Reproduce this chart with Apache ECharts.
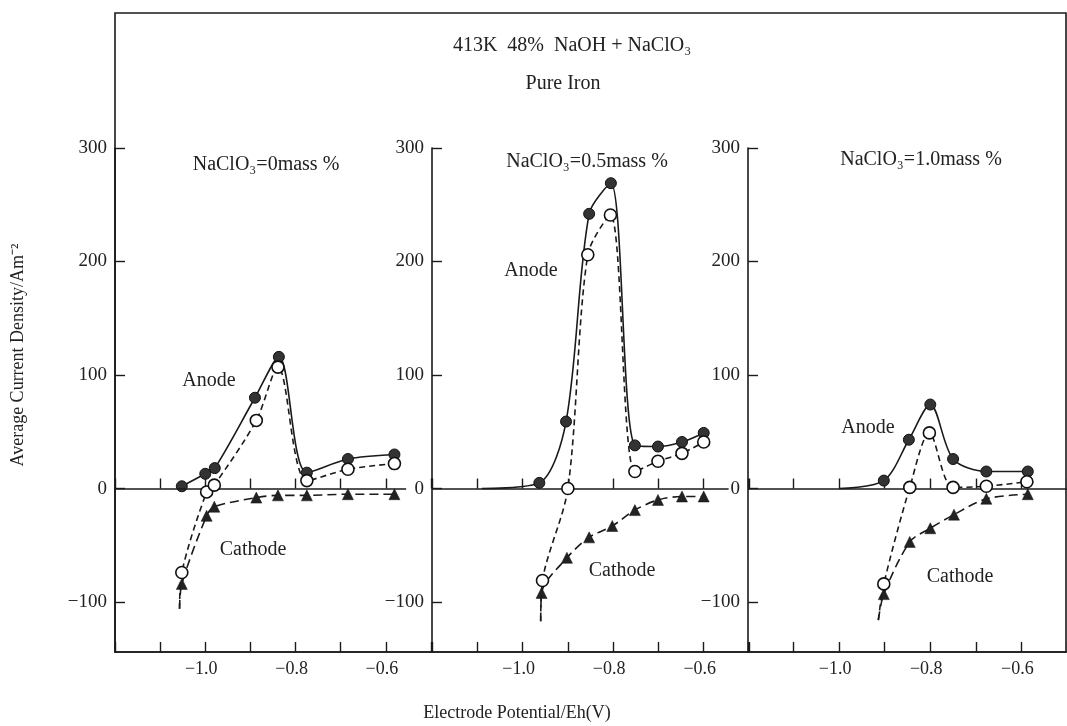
<!DOCTYPE html>
<html><head><meta charset="utf-8">
<script src="https://cdn.jsdelivr.net/npm/echarts@6/dist/echarts.min.js"></script>
<style>html,body{margin:0;padding:0;background:#fff}#c{width:1067px;height:726px}</style>
</head><body><div id="c"></div>
<script>
// ---- data ----
const panelTitles = ['NaClO₃=0mass %', 'NaClO₃=0.5mass %', 'NaClO₃=1.0mass %'];
const xLabelValues = [-1.0, -0.8, -0.6];
const xTickLabels = ['−1.0', '−0.8', '−0.6'];
const yTickValues = [-100, 0, 100, 200, 300];
const yTickLabels = ['−100', '0', '100', '200', '300'];

// Panel 1: NaClO3 = 0 mass%
const p1AnodeFilled = [[-1.052, 2], [-1.0, 13], [-0.979, 18], [-0.890, 80], [-0.837, 116], [-0.775, 14], [-0.684, 26], [-0.581, 30]];
const p1AnodeOpen = [[-1.052, -74], [-0.997, -3], [-0.980, 3], [-0.887, 60], [-0.839, 107], [-0.775, 7], [-0.684, 17], [-0.581, 22]];
const p1Cathode = [[-1.052, -84], [-0.997, -24], [-0.980, -16], [-0.887, -8], [-0.839, -6], [-0.775, -6], [-0.684, -5], [-0.581, -5]];
const p1FilledTail = [];
const p1OpenTail = [[-1.057, -106]];
const p1CathodeTail = [[-1.057, -106]];

// Panel 2: NaClO3 = 0.5 mass%
const p2AnodeFilled = [[-0.963, 5], [-0.904, 59], [-0.853, 242], [-0.805, 269], [-0.752, 38], [-0.701, 37], [-0.648, 41], [-0.600, 49]];
const p2AnodeOpen = [[-0.956, -81], [-0.900, 0], [-0.856, 206], [-0.806, 241], [-0.752, 15], [-0.701, 24], [-0.648, 31], [-0.600, 41]];
const p2Cathode = [[-0.958, -92], [-0.902, -61], [-0.853, -43], [-0.802, -33], [-0.752, -19], [-0.701, -10], [-0.648, -7], [-0.600, -7]];
const p2FilledTail = [[-1.09, 0]];
const p2OpenTail = [[-0.960, -117]];
const p2CathodeTail = [[-0.960, -117]];

// Panel 3: NaClO3 = 1.0 mass%
const p3AnodeFilled = [[-0.902, 7], [-0.847, 43], [-0.800, 74], [-0.750, 26], [-0.677, 15], [-0.586, 15]];
const p3AnodeOpen = [[-0.902, -84], [-0.845, 1], [-0.802, 49], [-0.750, 1], [-0.677, 2], [-0.588, 6]];
const p3Cathode = [[-0.902, -93], [-0.845, -47], [-0.800, -35], [-0.748, -23], [-0.677, -9], [-0.586, -5]];
const p3FilledTail = [[-1.0, 0]];
const p3OpenTail = [[-0.914, -116]];
const p3CathodeTail = [[-0.914, -116]];

const zeroLineEnd = [-0.555, -0.545, -0.5];
const xMin = -1.2, xMax = -0.5, yMin = -144, yMax = 300;

// ---- chart ----
const FONT = "'Liberation Serif','Times New Roman',serif";
const INK = '#1a1a1a';
const panels = [
  {filled: p1AnodeFilled, open: p1AnodeOpen, cath: p1Cathode, ft: p1FilledTail, ot: p1OpenTail, ct: p1CathodeTail},
  {filled: p2AnodeFilled, open: p2AnodeOpen, cath: p2Cathode, ft: p2FilledTail, ot: p2OpenTail, ct: p2CathodeTail},
  {filled: p3AnodeFilled, open: p3AnodeOpen, cath: p3Cathode, ft: p3FilledTail, ot: p3OpenTail, ct: p3CathodeTail}
];
const gridPos = [{left: 115, width: 316}, {left: 432, width: 317}, {left: 748, width: 322}];

function withTail(tail, pts) {
  return tail.map(p => ({value: p, symbol: 'none'})).concat(pts);
}

const grid = [], xAxis = [], yAxis = [], series = [];
gridPos.forEach((g, i) => {
  grid.push({left: g.left, width: g.width, top: 148, height: 504, containLabel: false});
  xAxis.push({
    type: 'value', gridIndex: i, position: 'bottom', min: xMin, max: xMax, interval: 0.1,
    axisLine: {onZero: false, lineStyle: {color: INK, width: 1.6}},
    axisTick: {show: true, inside: true, length: 10, lineStyle: {color: INK, width: 1.4}},
    axisLabel: {show: true, customValues: xLabelValues, margin: 8, color: '#222', fontFamily: FONT, fontSize: 18,
      padding: [0, 8, 0, 0],
      formatter: v => { const k = xLabelValues.findIndex(t => Math.abs(t - v) < 1e-6); return k >= 0 ? xTickLabels[k] : ''; }},
    splitLine: {show: false}
  });
  xAxis.push({
    type: 'value', gridIndex: i, position: 'top', min: xMin, max: xMax, interval: 0.1,
    axisLine: {show: true, onZero: true, lineStyle: {color: INK, width: 1.5, opacity: 0}},
    axisTick: {show: true, inside: false, length: 10, lineStyle: {color: INK, width: 1.4}},
    axisLabel: {show: false}, splitLine: {show: false}
  });
  yAxis.push({
    type: 'value', gridIndex: i, min: yMin, max: yMax,
    axisLine: {show: true, onZero: false, lineStyle: {color: INK, width: 1.6}},
    axisTick: {show: true, inside: true, length: 10, customValues: yTickValues, lineStyle: {color: INK, width: 1.4}},
    axisLabel: {show: true, customValues: yTickValues, margin: 8, color: '#222', fontFamily: FONT, fontSize: 19,
      formatter: v => { const k = yTickValues.indexOf(Math.round(v)); return k >= 0 ? yTickLabels[k] : ''; }},
    splitLine: {show: false}
  });
  const P = panels[i];
  const xi = i * 2;
  series.push({
    type: 'line', xAxisIndex: xi, yAxisIndex: i, data: withTail(P.ft, P.filled), smooth: 0.3,
    symbol: 'circle', symbolSize: 11, z: 4,
    lineStyle: {color: INK, width: 1.6, type: 'solid'},
    itemStyle: {color: '#333', borderColor: '#111', borderWidth: 1},
    markLine: {silent: true, symbol: 'none', label: {show: false}, animation: false,
      lineStyle: {color: INK, width: 1.6, type: 'solid'},
      data: [[{coord: [xMin, 0]}, {coord: [zeroLineEnd[i], 0]}]]}
  });
  series.push({
    type: 'line', xAxisIndex: xi, yAxisIndex: i, data: withTail(P.ot, P.open), smooth: 0.3,
    symbol: 'circle', symbolSize: 12, z: 5,
    lineStyle: {color: INK, width: 1.6, type: [6, 4]},
    itemStyle: {color: '#fff', borderColor: '#111', borderWidth: 1.6}
  });
  series.push({
    type: 'line', xAxisIndex: xi, yAxisIndex: i, data: withTail(P.ct, P.cath), smooth: 0.3,
    symbol: 'triangle', symbolSize: 11, z: 3,
    lineStyle: {color: INK, width: 1.6, type: [9, 5]},
    itemStyle: {color: '#222', borderColor: '#111', borderWidth: 0.5}
  });
});

function txt(x, y, s, size, extra) {
  return Object.assign({type: 'text', x: x, y: y, z: 10, silent: true,
    style: {text: s, fill: '#222', font: size + 'px ' + FONT, align: 'center', verticalAlign: 'middle'}}, extra || {});
}

const graphic = [
  {type: 'rect', z: 1, silent: true, shape: {x: 115, y: 13, width: 951, height: 639},
    style: {fill: 'none', stroke: INK, lineWidth: 1.6}},
  txt(572, 46, '413K  48%  NaOH + NaClO₃', 20),
  txt(563, 84, 'Pure Iron', 20),
  txt(266, 165, panelTitles[0], 20),
  txt(587, 162, panelTitles[1], 20),
  txt(921, 160, panelTitles[2], 20),
  txt(209, 381, 'Anode', 20), txt(253, 550, 'Cathode', 20),
  txt(531, 271, 'Anode', 20), txt(622, 571, 'Cathode', 20),
  txt(868, 428, 'Anode', 20), txt(960, 577, 'Cathode', 20),
  txt(517, 713, 'Electrode Potential/Eh(V)', 18),
  txt(18, 355, 'Average Current Density/Am⁻²', 18, {rotation: Math.PI / 2})
];

const chart = echarts.init(document.getElementById('c'), null, {renderer: 'canvas'});
chart.setOption({
  animation: false, backgroundColor: '#fff',
  grid, xAxis, yAxis, series, graphic
});
</script></body></html>
